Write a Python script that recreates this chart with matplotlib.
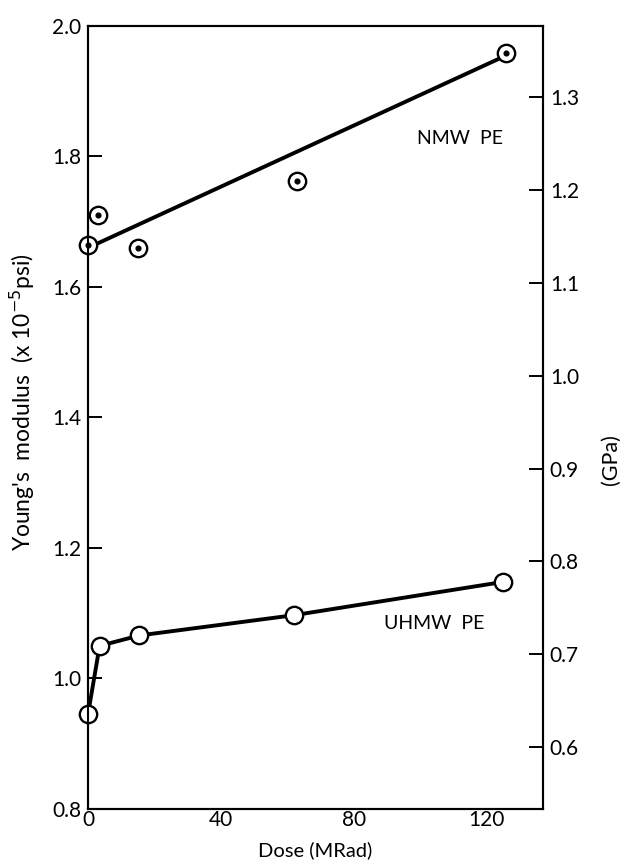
import matplotlib
matplotlib.use("Agg")
import matplotlib.pyplot as plt

# ---- data ----
nmw_dose = [0, 3, 15, 63, 126]
nmw_mod = [1.665, 1.71, 1.66, 1.763, 1.958]
nmw_fit_dose = [0, 126]
nmw_fit_mod = [1.66, 1.955]

uhmw_dose = [0, 3.5, 15.5, 62, 125]
uhmw_mod = [0.945, 1.05, 1.066, 1.097, 1.148]

x_ticks = [0, 40, 80, 120]
x_ticklabels = ["0", "40", "80", "120"]
y_ticks = [0.8, 1.0, 1.2, 1.4, 1.6, 1.8, 2.0]
y_ticklabels = ["0.8", "1.0", "1.2", "1.4", "1.6", "1.8", "2.0"]
gpa_ticks = [0.6, 0.7, 0.8, 0.9, 1.0, 1.1, 1.2, 1.3]
gpa_ticklabels = ["0.6", "0.7", "0.8", "0.9", "1.0", "1.1", "1.2", "1.3"]

plt.rcParams['font.family'] = ['Lato', 'DejaVu Sans']

fig = plt.figure(figsize=(6.24, 8.6), dpi=100)
ax = fig.add_axes([0.141, 0.0593, 0.729, 0.9105])

ax.set_xlim(0, 137)
ax.set_ylim(0.8, 2.0)

lw = 2.8
ms = 12.5
# NMW fit line
ax.plot(nmw_fit_dose, nmw_fit_mod, color='black', lw=lw, zorder=2)
ax.plot(nmw_dose, nmw_mod, linestyle='none', marker='o', ms=ms, mfc='white',
        mec='black', mew=1.7, zorder=3, clip_on=False)
ax.plot(nmw_dose, nmw_mod, linestyle='none', marker='o', ms=3.4, mfc='black',
        mec='black', zorder=4, clip_on=False)
# UHMW
ax.plot(uhmw_dose, uhmw_mod, color='black', lw=lw, marker='o', ms=ms, mfc='white',
        mec='black', mew=1.7, zorder=3, clip_on=False)

ax.text(99, 1.828, "NMW  PE", fontsize=14, va='center', ha='left')
ax.text(89, 1.085, "UHMW  PE", fontsize=14, va='center', ha='left')

ax.set_xticks(x_ticks)
ax.set_xticklabels(x_ticklabels, fontsize=15)
ax.set_yticks(y_ticks)
ax.set_yticklabels(y_ticklabels, fontsize=15)
ax.tick_params(axis='x', direction='in', length=0, pad=1)
ax.tick_params(axis='y', direction='in', length=10, width=1.4, pad=5)

ax.set_xlabel("Dose (MRad)", fontsize=14.5, labelpad=8)
ax.set_ylabel(r"Young's  modulus  (x 10$^{-5}$psi)", fontsize=16.5, labelpad=8)
ax.yaxis.set_label_coords(-0.112, 0.52)

for s in ax.spines.values():
    s.set_linewidth(1.5)

# Right axis in GPa
ax2 = ax.twinx()
ax2.set_ylim(0.533, 1.377)
ax2.set_yticks(gpa_ticks)
ax2.set_yticklabels(gpa_ticklabels, fontsize=15)
ax2.tick_params(axis='y', direction='in', length=10, width=1.4, pad=5)
ax2.set_ylabel("(GPa)", fontsize=15.5)
ax2.yaxis.set_label_coords(1.128, 0.446)
for s in ax2.spines.values():
    s.set_linewidth(1.5)

fig.savefig("out.png", dpi=100)
